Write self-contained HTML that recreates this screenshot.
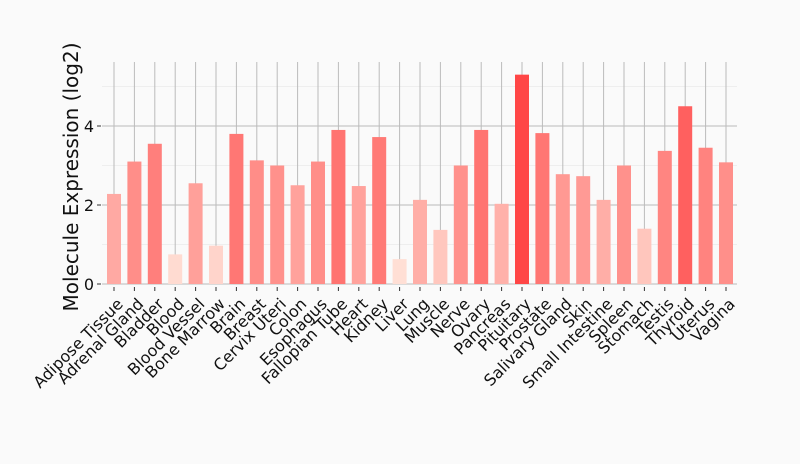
<!DOCTYPE html><html><head><style>body{margin:0;background:#fafafa}svg{display:block}text{font-family:"DejaVu Sans",sans-serif;fill:#111}</style></head><body>
<svg id="s" width="800" height="464" xmlns="http://www.w3.org/2000/svg"></svg>
<script>
const names=["Adipose Tissue","Adrenal Gland","Bladder","Blood","Blood Vessel","Bone Marrow","Brain","Breast","Cervix Uteri","Colon","Esophagus","Fallopian Tube","Heart","Kidney","Liver","Lung","Muscle","Nerve","Ovary","Pancreas","Pituitary","Prostate","Salivary Gland","Skin","Small Intestine","Spleen","Stomach","Testis","Thyroid","Uterus","Vagina"];
const v=[2.28,3.1,3.55,0.75,2.55,0.97,3.8,3.13,3.0,2.5,3.1,3.9,2.48,3.72,0.63,2.13,1.37,3.0,3.9,2.03,5.3,3.82,2.78,2.73,2.13,3.0,1.4,3.37,4.5,3.45,3.08];
const y0=284,k=39.5;let h='';
[1,3,5].forEach(t=>h+=`<line x1="102" x2="737" y1="${y0-t*k}" y2="${y0-t*k}" stroke="#eeeeee"/>`);
[0,2,4].forEach(t=>h+=`<line x1="102" x2="737" y1="${y0-t*k}" y2="${y0-t*k}" stroke="#bbb"/><line x1="97" x2="101" y1="${y0-t*k}" y2="${y0-t*k}" stroke="#333"/><text x="94" y="${y0-t*k+6}" font-size="16" text-anchor="end">${t}</text>`);
function col(x){let f=Math.max(0,Math.min(1,(x-0.6)/4.7));const a=[255,224,214],b=[255,70,70];return `rgb(${a.map((c,i)=>Math.round(c+(b[i]-c)*f)).join(',')})`}
names.forEach((n,i)=>{const c=114+i*20.4;h+=`<line x1="${c}" x2="${c}" y1="62" y2="284" stroke="#bbb"/>`;});
names.forEach((n,i)=>{const c=114+i*20.4,t=y0-v[i]*k;h+=`<rect x="${c-7}" y="${t}" width="14" height="${y0-t}" fill="${col(v[i])}"/><line x1="${c}" x2="${c}" y1="287" y2="291" stroke="#333"/><text transform="translate(${c+10},${305}) rotate(-45)" font-size="16" text-anchor="end">${n}</text>`;});
h+=`<text transform="translate(78,177) rotate(-90)" font-size="20" text-anchor="middle">Molecule Expression (log2)</text>`;
document.getElementById('s').innerHTML=h;
</script></body></html>
